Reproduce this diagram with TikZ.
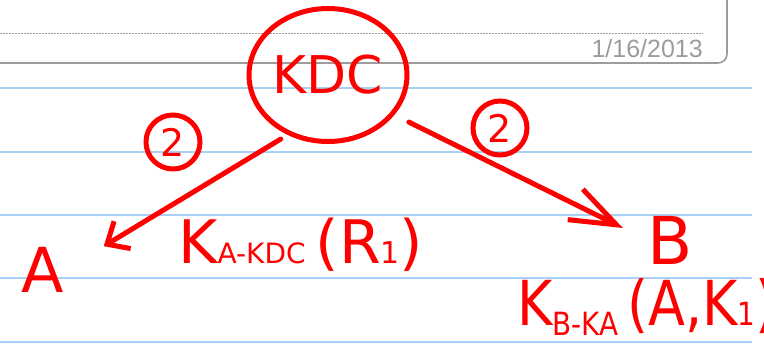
\documentclass[tikz,border=0pt]{standalone}
\usepackage{fontspec}
\setmainfont{DejaVu Sans}
\newfontfamily\datefont{Liberation Sans}
\usepackage{xcolor}
\usetikzlibrary{arrows.meta,shapes.geometric}
\definecolor{ink}{HTML}{FF0000}
\definecolor{ruleblue}{HTML}{A9D0F5}
\definecolor{framegray}{HTML}{9C9C9C}
\newcommand{\inksize}[1]{\fontsize{#1}{#1}\selectfont}
\tikzset{
  inkring/.style={draw=ink,line width=5pt,text=ink,inner sep=0pt},
  inktext/.style={text=ink,inner sep=0pt},
  inkarr/.style={draw=ink,line width=5pt,line cap=round,line join=round},
  hrule/.style={draw=ruleblue,line width=2pt},
  hframe/.style={draw=framegray,line width=1.6pt,rounded corners=9pt}
}

\begin{document}
\begin{tikzpicture}[x=1pt,y=-1pt]
  \useasboundingbox (0,0) rectangle (764,354);
  \clip (0,0) rectangle (764,354);
  % note paper
  \foreach \y in {88,152,215,278,342} \draw[hrule] (0,\y) -- (752,\y);
  \draw[hframe] (0,63) -| (727,-10);
  \draw[framegray,line width=1pt,dash pattern=on 1.5pt off 1.5pt] (0,33) -- (703,33);
  \node[text=framegray,anchor=base east,inner sep=0pt,font=\datefont\inksize{25}] (date) at (703,57) {1/16/2013};
  % ink
  \node[inkring,ellipse,minimum width=158pt,minimum height=133pt,font=\inksize{52}] (kdc) at (328,75) {KDC};
  \node[inktext,font=\inksize{62}] (a) at (43,270) {A};
  \node[inktext,font=\inksize{66}] (b) at (670,240) {B};
  \node[inkring,circle,minimum size=54pt,font=\inksize{38}] (stepa) at (173,142) {2};
  \node[inkring,circle,minimum size=54pt,font=\inksize{38}] (stepb) at (500,128) {2};
  \node[inktext,anchor=base west,font=\inksize{60}] (lbla) at (178,263) {K{\inksize{28}A-KDC}\,(R{\inksize{30}1})};
  \node[inktext,anchor=base west,font=\inksize{62}] (lblb) at (517,325) {\scalebox{0.87}[1]{K\raisebox{-10pt}{\inksize{32}B-KA}\,(A,K{\inksize{32}1})}};
  \draw[inkarr,-{Straight Barb[length=18pt,width=32pt]},shorten <=8pt,shorten >=46pt] (kdc.-124) -- (a.east);
  \draw[inkarr,-{Straight Barb[length=46pt,width=34pt]},shorten <=16pt,shorten >=27pt] (kdc.-31) -- (b.west);
\end{tikzpicture}
\end{document}
